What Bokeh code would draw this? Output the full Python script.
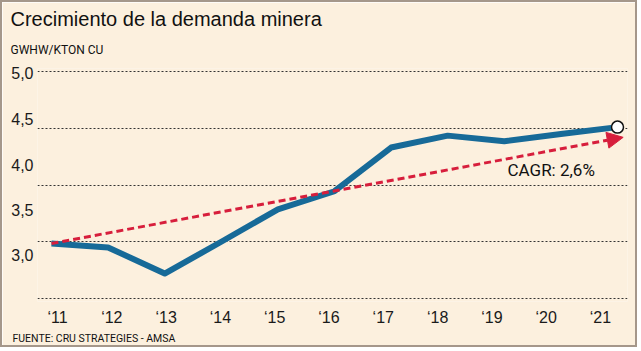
from bokeh.plotting import figure
from bokeh.models import (ColumnDataSource, FixedTicker, Label, Arrow, NormalHead, Range1d, Title)
from bokeh.embed import file_html
from bokeh.resources import INLINE

# ---------------- data ----------------
years = [2011, 2012, 2013, 2014, 2015, 2016, 2017, 2018, 2019, 2020, 2021]
year_labels = ["‘11", "‘12", "‘13", "‘14", "‘15", "‘16", "‘17", "‘18", "‘19", "‘20", "‘21"]
demand = [3.485, 3.45, 3.22, 3.50, 3.785, 3.945, 4.33, 4.435, 4.385, 4.45, 4.51]
cagr_x = [2011, 2021.1]
cagr_y = [3.485, 4.42]
grid_values = [3.0, 3.5, 4.0, 4.5, 5.0]
y_tick_labels = ["3,0", "3,5", "4,0", "4,5", "5,0"]
title_text = "Crecimiento de la demanda minera"
subtitle_text = "GWHW/KTON CU"
source_text = "FUENTE: CRU STRATEGIES - AMSA"
cagr_text = "CAGR: 2,6%"

# ---------------- layout constants ----------------
BG = "#FCF0DE"
BLUE = "#176A98"
RED = "#D71E3C"
W, H = 637, 347
FL, FR, FT, FB = 35, 625, 66, 299          # frame edges in canvas px
X0_PX, X1_PX = 49, 615                     # px of first / last year
Y5_PX, Y3_PX = 69, 296                     # px of 5.0 / 3.0 gridlines

xs = (X1_PX - X0_PX) / (years[-1] - years[0])
ys = (Y3_PX - Y5_PX) / (grid_values[-1] - grid_values[0])


def px_x(px):
    return years[0] + (px - X0_PX) / xs


def px_y(px):
    return grid_values[-1] - (px - Y5_PX) / ys


p = figure(width=W, height=H, output_backend="svg", toolbar_location=None,
           x_range=Range1d(px_x(FL), px_x(FR)), y_range=Range1d(px_y(FB), px_y(FT)),
           min_border_left=FL, min_border_right=W - FR,
           min_border_top=FT, min_border_bottom=H - FB,
           background_fill_color=BG, border_fill_color=BG,
           styles={"border": "2px solid #A5978A"})
p.outline_line_color = None
p.xgrid.visible = False
p.ygrid.ticker = FixedTicker(ticks=grid_values)
p.ygrid.grid_line_color = "#333333"
p.ygrid.grid_line_dash = "2 2"
p.ygrid.grid_line_width = 1

# y labels (placed as in the original layout)
ytick_pos = [round(px_y(Y5_PX + (4 - i) * 45.5 + 2), 4) for i in range(5)]
p.yaxis.ticker = FixedTicker(ticks=ytick_pos)
p.yaxis.major_label_overrides = {v: t for v, t in zip(ytick_pos, y_tick_labels)}
# x labels (placed as in the original layout)
xtick_pos = [round(px_x(55 + i * 54.3), 4) for i in range(len(years))]
p.xaxis.ticker = FixedTicker(ticks=xtick_pos)
p.xaxis.major_label_overrides = {v: t for v, t in zip(xtick_pos, year_labels)}

for ax in (p.xaxis[0], p.yaxis[0]):
    ax.axis_line_color = None
    ax.major_tick_line_color = None
    ax.minor_tick_line_color = None
    ax.major_tick_out = 0
    ax.major_tick_in = 0
    ax.major_label_text_font = "Liberation Sans"
    ax.major_label_text_font_size = "16px"
    ax.major_label_text_color = "#1a1a1a"
p.yaxis.major_label_standoff = 4
p.xaxis.major_label_standoff = 7

src = ColumnDataSource(dict(x=years, y=demand))
p.line("x", "y", source=src, line_color=BLUE, line_width=6, line_join="round")

p.add_layout(Arrow(end=NormalHead(size=16, fill_color=RED, line_color=RED),
                   x_start=cagr_x[0], y_start=cagr_y[0], x_end=cagr_x[1], y_end=cagr_y[1],
                   line_color=RED, line_width=3, line_dash="7 4"))

p.scatter([years[-1]], [demand[-1]], size=12, fill_color="white",
          line_color="#111111", line_width=1.5)

p.title.text = title_text
p.title.align = "left"
p.title.offset = -27
p.title.text_font = "Liberation Sans"
p.title.text_font_size = "20px"
p.title.text_font_style = "normal"
p.title.text_color = "#111111"
p.title.standoff = 0
p.title.text_line_height = 0.7

p.add_layout(Title(text=subtitle_text, align="left", offset=-27, text_font="Roboto",
                   text_font_size="12px", text_font_style="normal", text_color="#111111",
                   standoff=23), "above")
p.add_layout(Title(text=source_text, align="left", offset=-25, text_font="Roboto",
                   text_font_size="10.5px", text_font_style="normal", text_color="#111111",
                   standoff=2), "below")

p.add_layout(Label(x=px_x(505), y=px_y(177), text=cagr_text, text_font="Roboto",
                   text_font_size="17px", text_color="#111111"))

open("out.html", "w").write(file_html(p, INLINE))
